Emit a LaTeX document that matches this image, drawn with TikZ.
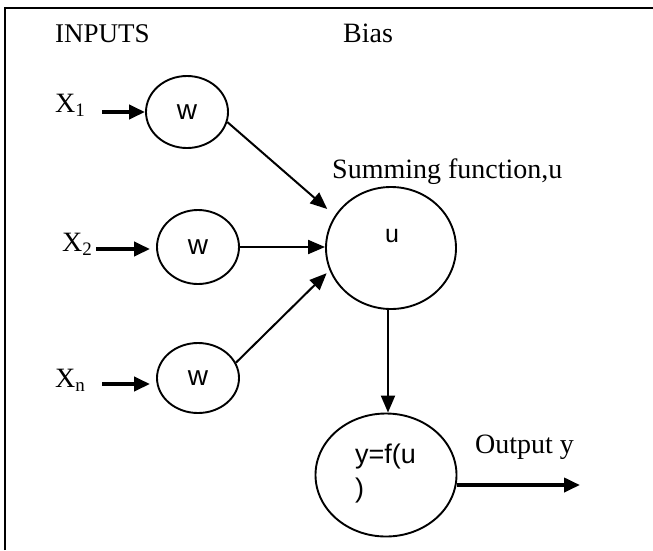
\documentclass[tikz,border=0pt]{standalone}
\usepackage{fontspec}
\setmainfont{Liberation Serif}
\newfontfamily\arialf{Liberation Sans}
\usetikzlibrary{arrows.meta,shapes.geometric}
\newcommand{\xsub}[1]{\raisebox{-4pt}{\fontsize{19}{20}\selectfont #1}}
\begin{document}
\begin{tikzpicture}[x=1pt,y=-1pt,
  cell/.style={draw,ellipse,line width=1.9pt,inner sep=0pt,font=\arialf\fontsize{28}{30}\selectfont},
  thinarrow/.style={line width=2pt,-{Triangle[length=17pt,width=14pt]}},
  thickarrow/.style={line width=3.8pt,-{Triangle[length=16pt,width=14pt]}},
  lbl/.style={inner sep=0pt,font=\fontsize{27}{30}\selectfont},
  biglbl/.style={inner sep=0pt,font=\fontsize{28}{30}\selectfont},
  xlbl/.style={inner sep=0pt,font=\fontsize{28}{30}\selectfont}
]
\useasboundingbox (0,0) rectangle (653,550);
% frame
\draw[line width=1.5pt] (5,550) -- (5,8) -- (653,8);

% titles
\node[lbl,anchor=base west] (inputs) at (55,42) {INPUTS};
\node[biglbl,anchor=base west] (bias) at (343,42) {Bias};
\node[biglbl,anchor=base west] (sumlbl) at (332,178) {Summing function,u};
\node[biglbl,anchor=base west] (outlbl) at (475,453) {Output y};

% input labels
\node[xlbl,anchor=base west] (x1) at (55,112) {X\xsub{1}};
\node[xlbl,anchor=base west] (x2) at (62,251) {X\xsub{2}};
\node[xlbl,anchor=base west] (xn) at (55,387) {X\xsub{n}};

% cells
\node[cell,minimum width=82pt,minimum height=72pt] (w1) at (187,112) {w};
\node[cell,minimum width=82pt,minimum height=74pt] (w2) at (198,247) {w};
\node[cell,minimum width=82pt,minimum height=70pt] (w3) at (198,378) {w};
\node[cell,minimum width=130pt,minimum height=122pt] (u) at (391,248) {};
\node[inner sep=0pt,font=\arialf\fontsize{25}{26}\selectfont] (utext) at (392,236) {u};
\node[cell,minimum width=141pt,minimum height=123pt] (yout) at (386,475) {};
\node[inner sep=0pt,anchor=north west,align=left,font=\arialf\fontsize{27}{34}\selectfont] (ytext) at (355,444) {y=f(u\\)};

% input arrows
\coordinate (a1) at (102,112);
\coordinate (a2) at (96,249);
\coordinate (a3) at (102,384);
\draw[thickarrow] (a1) -- (a1 -| w1.west);
\draw[thickarrow] (a2) -- ([xshift=-6pt]a2 -| w2.west);
\draw[thickarrow] (a3) -- ([xshift=-6pt]a3 -| w3.west);

% to summing
\draw[thinarrow,shorten >=10pt] (w1.-14) -- (u.150);
\draw[thinarrow] (w2.east) -- (w2.east -| u.west);
\draw[thinarrow,shorten >=4pt] (w3.22) -- (u.200);

% down to output
\draw[thinarrow] ([xshift=2pt]yout.north |- u.south) -- ([xshift=2pt]yout.north);

% output arrow
\coordinate (outend) at (580,485);
\draw[thickarrow] (yout.east |- outend) -- (outend);
\end{tikzpicture}
\end{document}
